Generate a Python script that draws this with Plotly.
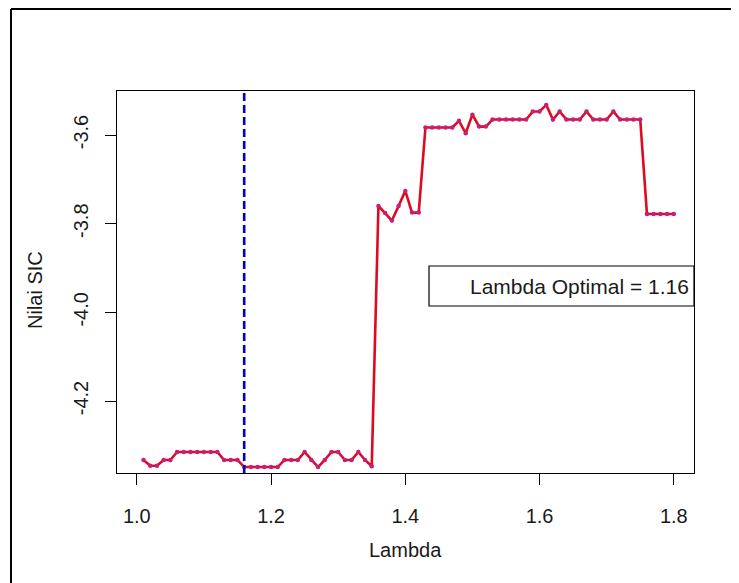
import plotly.graph_objects as go

lambda_vals = [1.01, 1.02, 1.03, 1.04, 1.05, 1.06, 1.07, 1.08, 1.09, 1.10,
               1.11, 1.12, 1.13, 1.14, 1.15, 1.16, 1.17, 1.18, 1.19, 1.20,
               1.21, 1.22, 1.23, 1.24, 1.25, 1.26, 1.27, 1.28, 1.29, 1.30,
               1.31, 1.32, 1.33, 1.34, 1.35, 1.36, 1.37, 1.38, 1.39, 1.40,
               1.41, 1.42, 1.43, 1.44, 1.45, 1.46, 1.47, 1.48, 1.49, 1.50,
               1.51, 1.52, 1.53, 1.54, 1.55, 1.56, 1.57, 1.58, 1.59, 1.60,
               1.61, 1.62, 1.63, 1.64, 1.65, 1.66, 1.67, 1.68, 1.69, 1.70,
               1.71, 1.72, 1.73, 1.74, 1.75, 1.76, 1.77, 1.78, 1.79, 1.80]

sic_vals = [-4.333, -4.346, -4.346, -4.333, -4.333,
            -4.315, -4.315, -4.315, -4.315, -4.315, -4.315, -4.315,
            -4.333, -4.333, -4.333,
            -4.349, -4.349, -4.349, -4.349, -4.349, -4.349,
            -4.333, -4.333, -4.333, -4.315, -4.333, -4.349, -4.333,
            -4.315, -4.315, -4.333, -4.333, -4.315, -4.333, -4.347,
            -3.760, -3.776, -3.793, -3.760, -3.726, -3.775, -3.775,
            -3.583, -3.583, -3.583, -3.583, -3.583,
            -3.568, -3.596, -3.554, -3.581, -3.581,
            -3.565, -3.565, -3.565, -3.565, -3.565, -3.565,
            -3.547, -3.547, -3.532, -3.565, -3.547,
            -3.565, -3.565, -3.565, -3.547,
            -3.565, -3.565, -3.565, -3.547,
            -3.565, -3.565, -3.565, -3.565,
            -3.778, -3.778, -3.778, -3.778, -3.778]

x_ticks = [1.0, 1.2, 1.4, 1.6, 1.8]
x_tick_labels = ["1.0", "1.2", "1.4", "1.6", "1.8"]
y_ticks = [-4.2, -4.0, -3.8, -3.6]
y_tick_labels = ["-4.2", "-4.0", "-3.8", "-3.6"]

lambda_opt = 1.16
legend_text = "Lambda Optimal = 1.16"

FONT = "Liberation Sans, Arial, sans-serif"
TXT = "#1a1a1a"
FS = 20

fig = go.Figure()
fig.add_trace(go.Scatter(
    x=lambda_vals, y=sic_vals, mode="lines+markers",
    line=dict(color="#DD0A22", width=2.6),
    marker=dict(color="#C4207A", size=4.5),
    showlegend=False, hoverinfo="x+y"))

OFF = 8  # page body margin
W, H = 739 - OFF, 583 - OFF
L, R, T, B = 117 - OFF, 45, 91 - OFF, 110
pw, ph = W - L - R, H - T - B

def px2paper_x(px):
    return (px - OFF - L) / pw

def px2paper_y(py):
    return (H - B - (py - OFF)) / ph

shapes = [
    dict(type="line", xref="x", yref="paper", x0=lambda_opt, x1=lambda_opt,
         y0=0, y1=1, line=dict(color="#0000CC", width=2.6, dash="8px,4px")),
    dict(type="rect", xref="paper", yref="paper",
         x0=px2paper_x(429), x1=1.0, y0=px2paper_y(306), y1=px2paper_y(266),
         line=dict(color="black", width=1.2), fillcolor="white", layer="above"),
    # outer frame: top and left edges
    dict(type="line", xref="paper", yref="paper",
         x0=px2paper_x(11), x1=px2paper_x(760), y0=px2paper_y(9), y1=px2paper_y(9),
         line=dict(color="black", width=2)),
    dict(type="line", xref="paper", yref="paper",
         x0=px2paper_x(11), x1=px2paper_x(11), y0=px2paper_y(9), y1=px2paper_y(600),
         line=dict(color="black", width=2)),
]

annotations = [
    dict(text=legend_text, xref="paper", yref="paper",
         x=px2paper_x(691), y=px2paper_y(286), xanchor="right", yanchor="middle",
         showarrow=False, font=dict(family=FONT, size=21, color=TXT)),
    dict(text="Lambda", xref="paper", yref="paper",
         x=px2paper_x(405), y=px2paper_y(550), xanchor="center", yanchor="middle",
         showarrow=False, font=dict(family=FONT, size=FS, color=TXT)),
    dict(text="Nilai SIC", xref="paper", yref="paper", textangle=-90,
         x=px2paper_x(35), y=px2paper_y(290), xanchor="center", yanchor="middle",
         showarrow=False, font=dict(family=FONT, size=FS, color=TXT)),
]

fig.update_layout(
    width=W, height=H, autosize=False,
    margin=dict(l=L, r=R, t=T, b=B, pad=0),
    paper_bgcolor="white", plot_bgcolor="white",
    shapes=shapes, annotations=annotations,
    font=dict(family=FONT, size=FS, color=TXT),
    xaxis=dict(range=[0.9705, 1.8301], tickvals=x_ticks, ticktext=x_tick_labels,
               showgrid=False, zeroline=False, showline=True, mirror=True,
               linecolor="black", linewidth=1.2, ticks="outside", ticklen=11,
               tickcolor="black", tickwidth=1.2, ticklabelstandoff=14,
               tickfont=dict(family=FONT, size=FS, color=TXT)),
    yaxis=dict(range=[-4.3624, -3.5007], tickvals=y_ticks, ticktext=y_tick_labels,
               showgrid=False, zeroline=False, showline=True, mirror=True,
               linecolor="black", linewidth=1.2, ticks="outside", ticklen=11,
               tickcolor="black", tickwidth=1.2, tickangle=-90, ticklabelstandoff=9,
               tickfont=dict(family=FONT, size=FS, color=TXT)),
)

fig.write_html("out.html")
